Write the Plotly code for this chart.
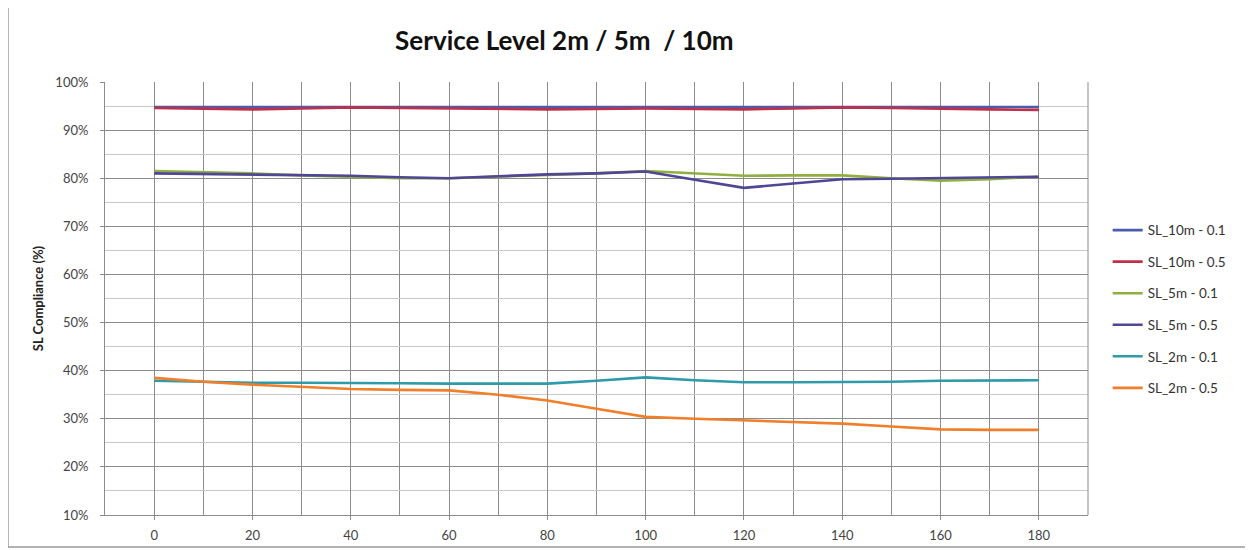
import plotly.graph_objects as go

# x positions (seconds offset)
x_vals = [0, 10, 20, 30, 40, 50, 60, 70, 80, 90, 100, 110, 120, 130, 140, 150, 160, 170, 180]

# service level compliance (%)
sl_10m_01 = [94.8, 94.8, 94.7, 94.8, 94.8, 94.8, 94.7, 94.7, 94.8, 94.7, 94.7, 94.8, 94.8, 94.8, 94.8, 94.7, 94.7, 94.8, 94.8]
sl_10m_05 = [94.6, 94.5, 94.3, 94.5, 94.7, 94.6, 94.5, 94.4, 94.3, 94.4, 94.5, 94.4, 94.3, 94.5, 94.7, 94.6, 94.4, 94.3, 94.2]
sl_5m_01 = [81.5, 81.3, 81.0, 80.6, 80.3, 80.0, 80.0, 80.3, 80.6, 81.0, 81.5, 81.0, 80.5, 80.6, 80.6, 80.0, 79.5, 79.8, 80.3]
sl_5m_05 = [81.0, 80.9, 80.8, 80.6, 80.5, 80.2, 80.0, 80.4, 80.8, 81.0, 81.4, 79.7, 78.0, 78.9, 79.8, 79.9, 80.0, 80.1, 80.3]
sl_2m_01 = [37.9, 37.7, 37.5, 37.5, 37.5, 37.4, 37.3, 37.3, 37.3, 37.9, 38.6, 38.0, 37.6, 37.6, 37.6, 37.7, 37.9, 37.9, 38.0]
sl_2m_05 = [38.5, 37.7, 37.1, 36.6, 36.2, 36.0, 35.9, 35.0, 33.8, 32.1, 30.4, 30.0, 29.7, 29.4, 29.0, 28.4, 27.8, 27.7, 27.7]

series_names = ["SL_10m - 0.1", "SL_10m - 0.5", "SL_5m - 0.1", "SL_5m - 0.5", "SL_2m - 0.1", "SL_2m - 0.5"]
series_data = [sl_10m_01, sl_10m_05, sl_5m_01, sl_5m_05, sl_2m_01, sl_2m_05]
series_colors = ["#4a5cab", "#c0304a", "#8fb040", "#4f4696", "#2f9aaa", "#f07e2a"]

x_ticks = list(range(0, 181, 20))
y_ticks = list(range(10, 101, 10))
y_labels = [f"{v}%" for v in y_ticks]

FONT = "Lato, 'Open Sans', sans-serif"

fig = go.Figure()
for name, data, color in zip(series_names, series_data, series_colors):
    fig.add_trace(go.Scatter(
        x=x_vals, y=data, name=name, mode="lines",
        line=dict(color=color, width=2.6),
        legendgroup=name,
    ))

# the page body adds an 8px offset, so the margins are trimmed by that much
fig.update_layout(
    width=1253, height=550,
    paper_bgcolor="white", plot_bgcolor="white",
    margin=dict(l=97, r=173, t=74, b=43, autoexpand=False),
    title=dict(text="<b>Service Level 2m / 5m  / 10m</b>", x=0.444, xanchor="center",
               y=0.94, yanchor="middle",
               font=dict(family=FONT, size=26, color="#111111")),
    font=dict(family=FONT, size=13, color="#333333"),
    legend=dict(x=1.02, xanchor="left", y=0.475, yanchor="middle",
                tracegroupgap=11, font=dict(size=13.5, color="#333333"),
                bgcolor="rgba(0,0,0,0)"),
    xaxis=dict(range=[-10, 190], tickvals=x_ticks, showgrid=True,
               gridcolor="#8c8c8c", gridwidth=1, zeroline=False,
               minor=dict(dtick=10, tick0=0, showgrid=True, gridcolor="#8c8c8c", gridwidth=1),
               showline=True, linecolor="#8c8c8c", ticks="outside", ticklen=4,
               ticklabelstandoff=4,
               tickcolor="#8c8c8c", tickfont=dict(size=13, color="#444444")),
    yaxis=dict(range=[10, 100], tickvals=y_ticks, ticktext=y_labels, showgrid=True,
               gridcolor="#8c8c8c", gridwidth=1, zeroline=False,
               minor=dict(dtick=5, tick0=0, showgrid=True, gridcolor="#c8c8c8", gridwidth=1),
               showline=True, linecolor="#8c8c8c", ticks="outside", ticklen=4,
               ticklabelstandoff=9,
               tickcolor="#8c8c8c", tickfont=dict(size=13, color="#444444"),
               title=dict(text="<b>SL Compliance (%)</b>", standoff=8,
                          font=dict(size=13, color="#222222"))),
    shapes=[dict(type="rect", xref="paper", yref="paper",
                 x0=-0.0987, x1=1.1607, y0=-0.0739, y1=1.1755,
                 line=dict(color="#9a9a9a", width=1.5), fillcolor="rgba(0,0,0,0)", layer="below"),
            dict(type="line", xref="paper", yref="paper", x0=1, x1=1, y0=0, y1=1,
                 line=dict(color="#8c8c8c", width=1))],
)

fig.write_html("out.html")
